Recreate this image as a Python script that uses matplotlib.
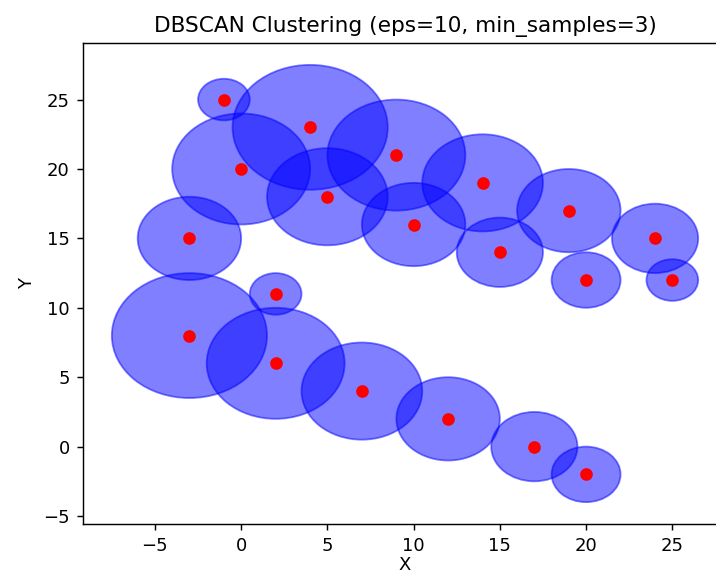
import matplotlib
matplotlib.use("Agg")
import matplotlib.pyplot as plt
from matplotlib.patches import Circle

# point coordinates and the radius of the disc drawn round each one
xs = [-1, 4, 0, 9, 5, 14, -3, 10, 19, 15, 24, 20, 25, 2, -3, 2, 7, 12, 17, 20]
ys = [25, 23, 20, 21, 18, 19, 15, 16, 17, 14, 15, 12, 12, 11, 8, 6, 4, 2, 0, -2]
radii = [1.5, 4.5, 4, 4, 3.5, 3.5, 3, 3, 3, 2.5, 2.5, 2, 1.5, 1.5, 4.5, 4, 3.5, 3, 2.5, 2]

eps = 10
min_samples = 3

fig = plt.figure(figsize=(716 / 130, 575 / 130), dpi=130)
ax = fig.add_axes([82.5 / 716, 51 / 575, 645 / 716, 481 / 575])

for x, y, r in zip(xs, ys, radii):
    ax.add_patch(Circle((x, y), r, color="blue", alpha=0.5))

ax.scatter(xs, ys, color="red")
ax.autoscale_view()

ax.set_title("DBSCAN Clustering (eps=%d, min_samples=%d)" % (eps, min_samples))
ax.set_xlabel("X", labelpad=1)
ax.set_ylabel("Y")

fig.savefig("out.png", dpi=130)
